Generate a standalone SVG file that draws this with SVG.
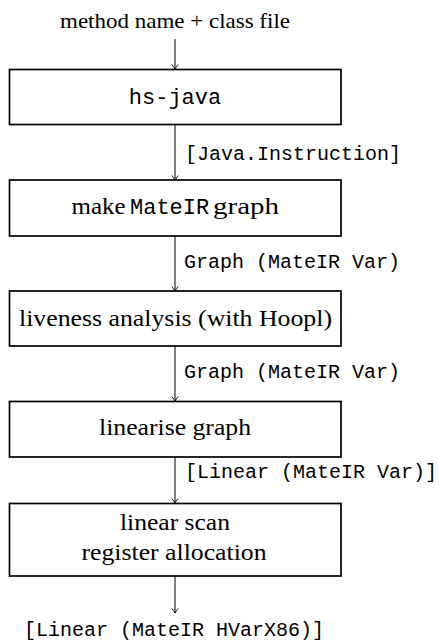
<svg xmlns="http://www.w3.org/2000/svg" width="439" height="643" viewBox="0 0 439 643">
<style>
.box{fill:#fff;stroke:#000;stroke-width:1.7}
.serif{font-family:"Liberation Serif","Times New Roman",serif;fill:#000}
.mono{font-family:"Liberation Mono","Courier New",monospace;fill:#000}
.lbl{font-size:20px}
.bx{font-size:24px}
.bxm{font-size:22px}
.edge{stroke:#000;stroke-width:1;fill:none}
</style>
<defs>
<marker id="arr" markerWidth="12" markerHeight="12" refX="0" refY="0" viewBox="-6 -6 12 12" markerUnits="userSpaceOnUse" orient="auto">
<path d="M-4.5,-3.2 Q-1.5,-0.8 0,0 Q-1.5,0.8 -4.5,3.2" stroke="#000" stroke-width="0.9" fill="none"/>
</marker>
</defs>
<g id="connectors">
<line class="edge" x1="175" y1="39" x2="175" y2="69" marker-end="url(#arr)"/>
<line class="edge" x1="175" y1="125" x2="175" y2="180" marker-end="url(#arr)"/>
<line class="edge" x1="175" y1="236" x2="175" y2="291" marker-end="url(#arr)"/>
<line class="edge" x1="175" y1="346" x2="175" y2="401" marker-end="url(#arr)"/>
<line class="edge" x1="175" y1="457" x2="175" y2="503" marker-end="url(#arr)"/>
<line class="edge" x1="175" y1="576" x2="175" y2="613" marker-end="url(#arr)"/>
<text class="mono lbl" x="185" y="160">[Java.Instruction]</text>
<text class="mono lbl" x="184" y="268">Graph (MateIR Var)</text>
<text class="mono lbl" x="184" y="378">Graph (MateIR Var)</text>
<text class="mono lbl" x="185" y="478">[Linear (MateIR Var)]</text>
</g>
<g id="input">
<text class="serif" font-size="22" x="60" y="28" textLength="230" lengthAdjust="spacingAndGlyphs">method name + class file</text>
</g>
<g id="hs-java">
<rect class="box" x="9.5" y="69.5" width="331.5" height="55"/>
<text class="mono bxm" x="175" y="104" text-anchor="middle">hs-java</text>
</g>
<g id="make-graph">
<rect class="box" x="9.5" y="180" width="331.5" height="56"/>
<text class="serif bx" x="71.5" y="213.5" textLength="54" lengthAdjust="spacingAndGlyphs">make</text>
<text class="mono bxm" x="130" y="213.5">MateIR</text>
<text class="serif bx" x="213" y="213.5" textLength="66" lengthAdjust="spacingAndGlyphs">graph</text>
</g>
<g id="liveness">
<rect class="box" x="9.5" y="291" width="331.5" height="55"/>
<text class="serif bx" x="19" y="325.5" textLength="313" lengthAdjust="spacingAndGlyphs">liveness analysis (with Hoopl)</text>
</g>
<g id="linearise">
<rect class="box" x="9.5" y="401.5" width="331.5" height="55.5"/>
<text class="serif bx" x="99" y="435" textLength="152" lengthAdjust="spacingAndGlyphs">linearise graph</text>
</g>
<g id="regalloc">
<rect class="box" x="9.5" y="503.5" width="331.5" height="72.5"/>
<text class="serif bx" x="120" y="530" textLength="110" lengthAdjust="spacingAndGlyphs">linear scan</text>
<text class="serif bx" x="81.5" y="560" textLength="185" lengthAdjust="spacingAndGlyphs">register allocation</text>
</g>
<g id="output">
<text class="mono lbl" x="174" y="636" text-anchor="middle">[Linear (MateIR HVarX86)]</text>
</g>
</svg>
